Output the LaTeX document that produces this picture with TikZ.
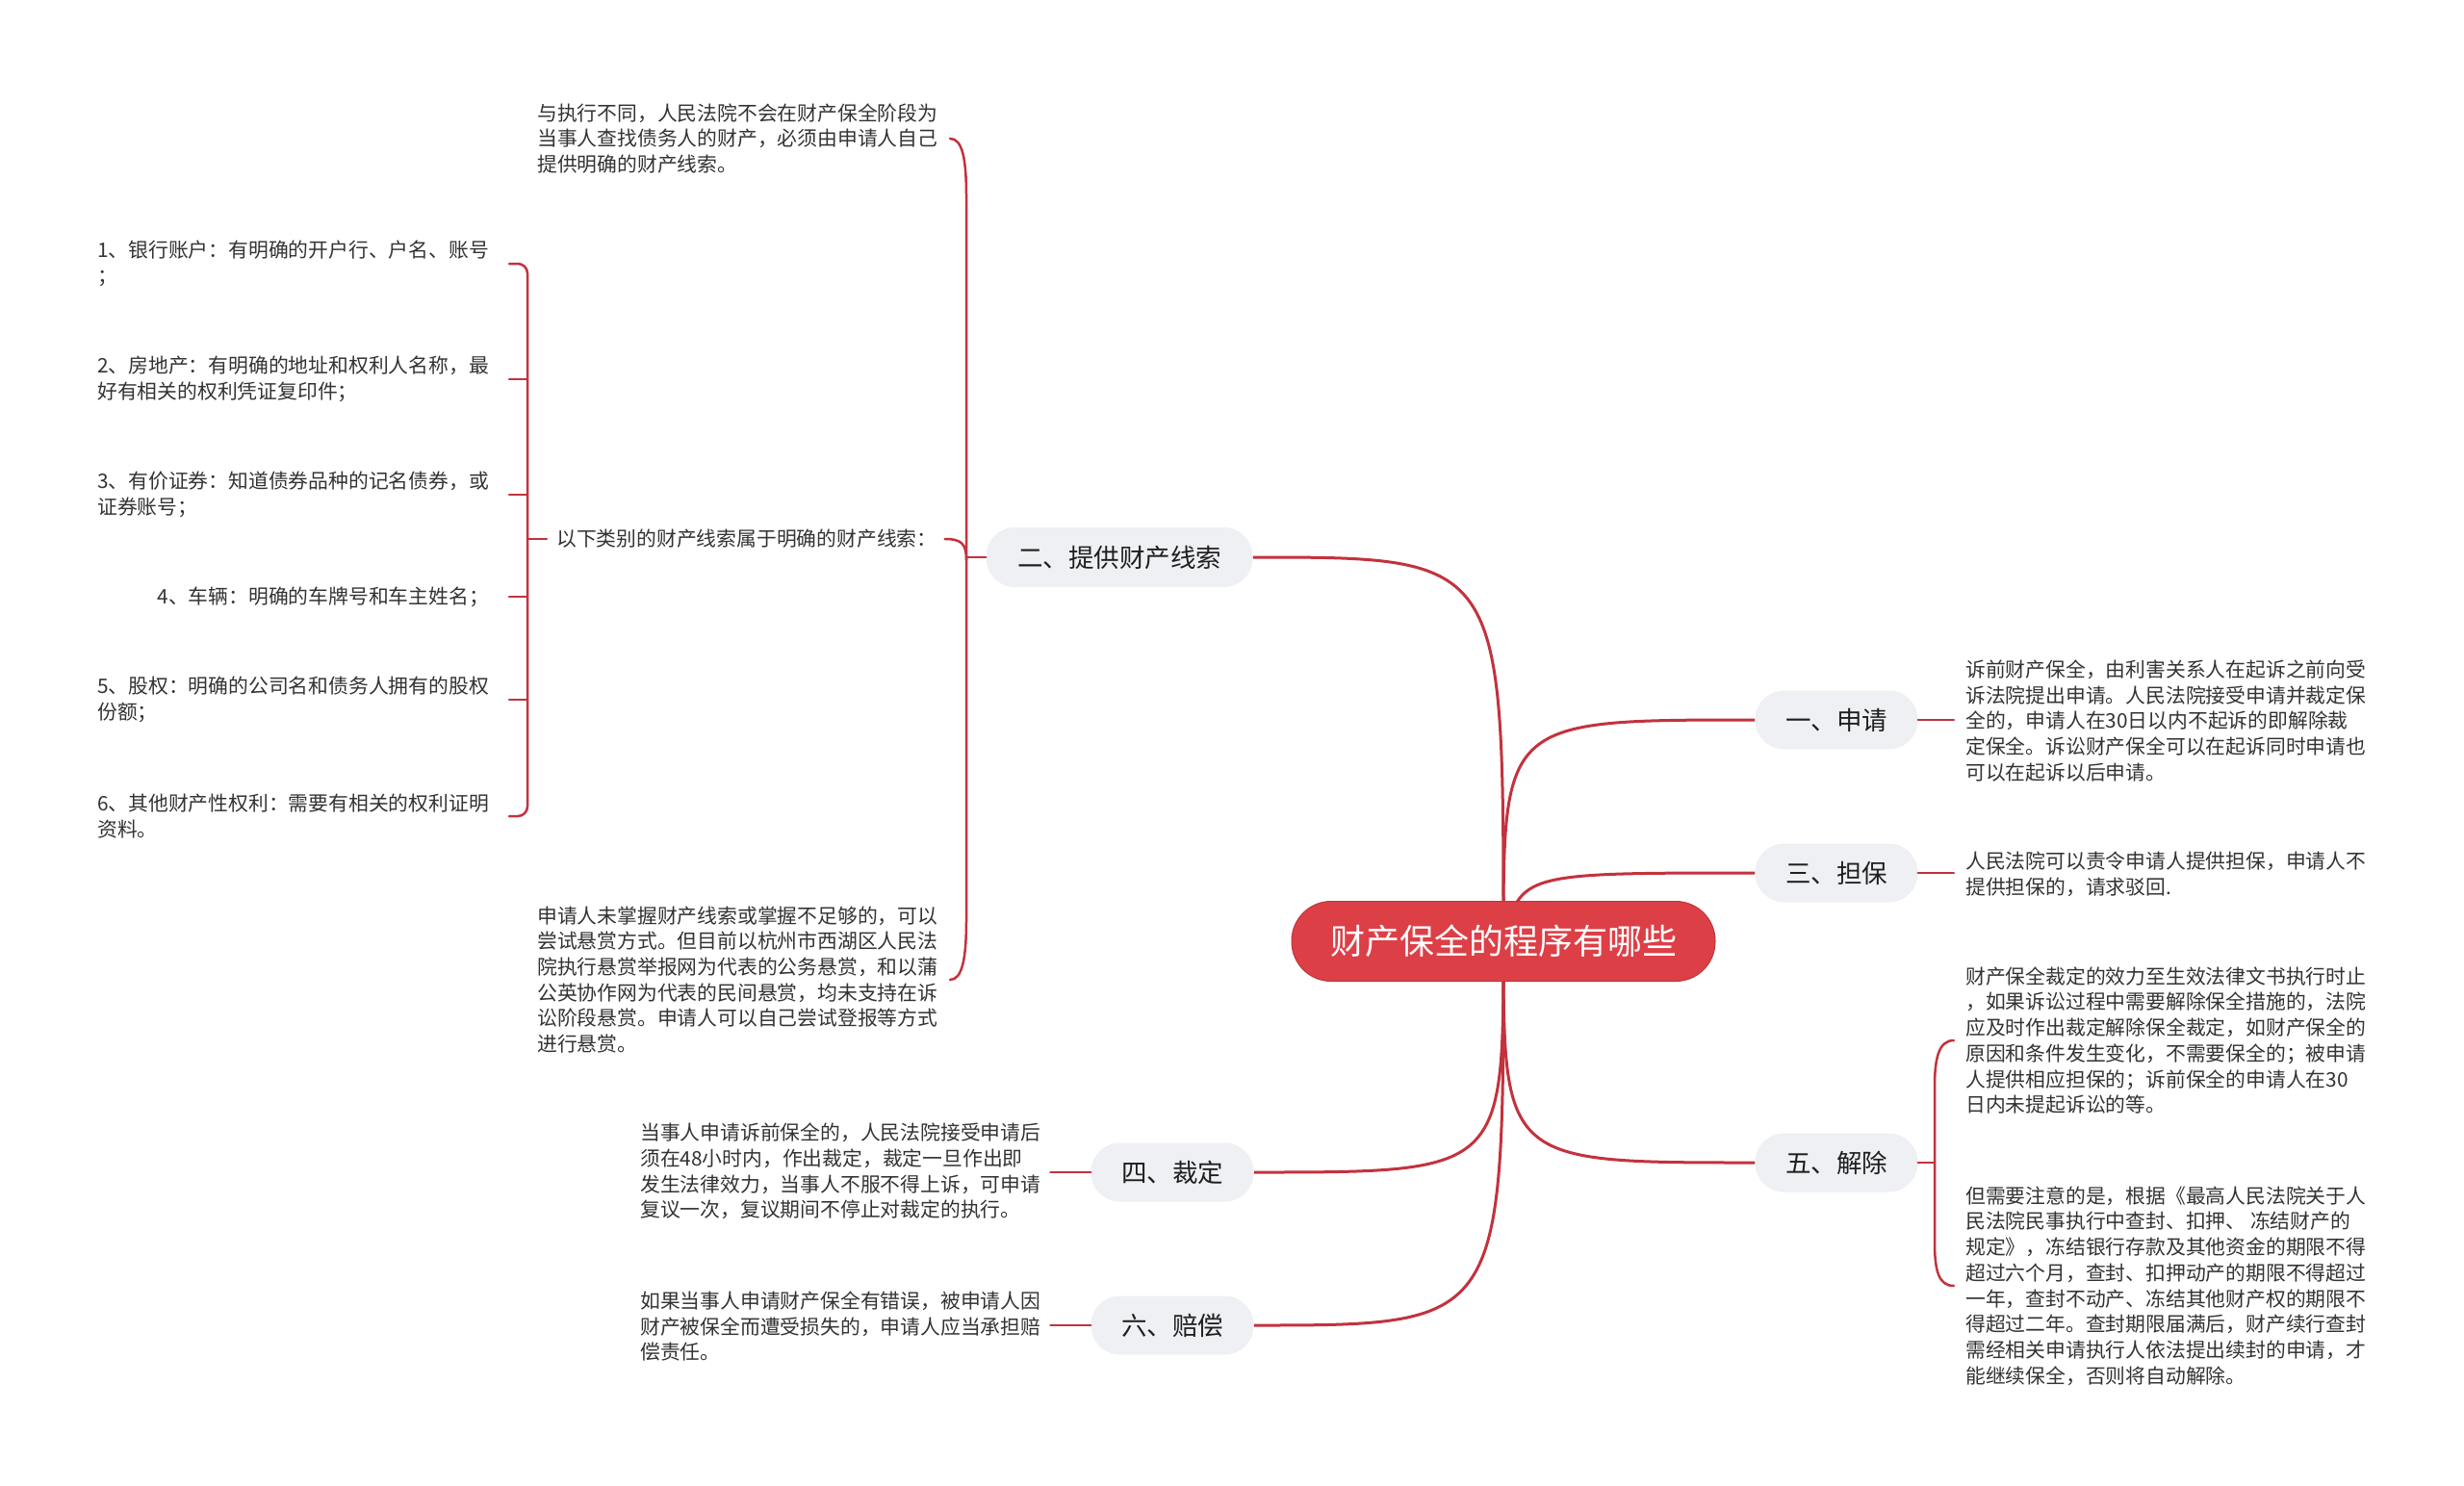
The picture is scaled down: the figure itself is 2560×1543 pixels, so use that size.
\documentclass[tikz,border=0pt]{standalone}
\usepackage{fontspec}
\newfontfamily\cjk{Noto Sans CJK SC}
\usetikzlibrary{backgrounds}
\definecolor{linered}{HTML}{C3323D}
\definecolor{rootred}{HTML}{DD3F47}
\definecolor{nodegray}{HTML}{EEF0F3}
\definecolor{txt}{HTML}{333333}
\tikzset{
  rootnode/.style={fill=rootred, draw=rootred!85!black, line width=1pt, rounded corners=41pt,
    minimum width=440pt, minimum height=83pt, inner sep=0pt, text=white,
    font=\cjk\fontsize{36pt}{40pt}\selectfont},
  branchnode/.style={fill=nodegray, rounded corners=30pt, minimum width=169pt,
    minimum height=61pt, inner sep=0pt, text=black!88,
    font=\cjk\fontsize{26.5pt}{30pt}\selectfont},
  leafnode/.style={align=left, inner sep=0pt, text=txt,
    font=\cjk\fontsize{20.8pt}{26.7pt}\selectfont},
  mainline/.style={draw=linered, line width=3pt},
  subline/.style={draw=linered, line width=2.5pt, line cap=round},
}
\begin{document}
\begin{tikzpicture}[x=1pt,y=-1pt]
\useasboundingbox (0,0) rectangle (2560,1543);

% ---- main nodes
\node[rootnode] (root) at (1562,978) {财产保全的程序有哪些};
\node[branchnode, minimum width=277pt, minimum height=62pt] (b2) at (1163,579) {二、提供财产线索};
\node[branchnode] (b1) at (1908,748) {一、申请};
\node[branchnode] (b3) at (1908,907) {三、担保};
\node[branchnode] (b5) at (1908,1208) {五、解除};
\node[branchnode] (b4) at (1218,1218) {四、裁定};
\node[branchnode] (b6) at (1218,1377) {六、赔偿};

% ---- background and main connectors (behind nodes)
\begin{scope}[on background layer]
\fill[white] (0,0) rectangle (2560,1543);
\draw[mainline] (root.center) .. controls (root.center |- b2.east) .. (b2.east);
\draw[mainline] (root.center) .. controls (root.center |- b1.west) .. (b1.west);
\draw[mainline] (root.center) .. controls ([xshift=18pt]root.center |- b3.west) .. (b3.west);
\draw[mainline] (root.center) .. controls (root.center |- b5.west) .. (b5.west);
\draw[mainline] (root.center) .. controls (root.center |- b4.east) .. (b4.east);
\draw[mainline] (root.center) .. controls (root.center |- b6.east) .. (b6.east);
\end{scope}

% ---- branch 二 children
\node[leafnode, anchor=west] (c2a) at (558,144) {与执行不同，人民法院不会在财产保全阶段为\\当事人查找债务人的财产，必须由申请人自己\\提供明确的财产线索。};
\node[leafnode, anchor=west] (c2b) at (578,560) {以下类别的财产线索属于明确的财产线索：};
\node[leafnode, anchor=west] (c2c) at (558,1018) {申请人未掌握财产线索或掌握不足够的，可以\\尝试悬赏方式。但目前以杭州市西湖区人民法\\院执行悬赏举报网为代表的公务悬赏，和以蒲\\公英协作网为代表的民间悬赏，均未支持在诉\\讼阶段悬赏。申请人可以自己尝试登报等方式\\进行悬赏。};

\coordinate (k2top) at (987,144);
\coordinate (k2bot) at (987,1018);
\coordinate (k2mid) at (1004,579);
\draw[subline] (k2top) .. controls (1000,144) and (1004,165) .. (1004,205) -- (1004,955) .. controls (1004,995) and (1000,1018) .. (k2bot);
\draw[subline] (b2.west) -- (k2mid);
\draw[subline] ([xshift=8pt]c2b.east) .. controls (1000,560) and (1004,566) .. (1004,582);

% ---- items under 以下类别
\node[leafnode, anchor=west] (i1) at (101,274) {1、银行账户：有明确的开户行、户名、账号\\；};
\node[leafnode, anchor=west] (i2) at (101,394) {2、房地产：有明确的地址和权利人名称，最\\好有相关的权利凭证复印件；};
\node[leafnode, anchor=west] (i3) at (101,514) {3、有价证券：知道债券品种的记名债券，或\\证券账号；};
\node[leafnode, anchor=east] (i4) at (508,620) {4、车辆：明确的车牌号和车主姓名；};
\node[leafnode, anchor=west] (i5) at (101,727) {5、股权：明确的公司名和债务人拥有的股权\\份额；};
\node[leafnode, anchor=west] (i6) at (101,848) {6、其他财产性权利：需要有相关的权利证明\\资料。};

\coordinate (t1) at (529,274);
\coordinate (t2) at (529,394);
\coordinate (t3) at (529,514);
\coordinate (t4) at (529,620);
\coordinate (t5) at (529,727);
\coordinate (t6) at (529,848);
\draw[subline, rounded corners=10pt] (t1) -- (548,274) -- (548,848) -- (t6);
\draw[subline] (t2) -- (548,394);
\draw[subline] (t3) -- (548,514);
\draw[subline] (t4) -- (548,620);
\draw[subline] (t5) -- (548,727);
\draw[subline] (548,560) -- ([xshift=-10pt]c2b.west);

% ---- right side leaves
\node[leafnode, anchor=west] (c1) at (2042,749) {诉前财产保全，由利害关系人在起诉之前向受\\诉法院提出申请。人民法院接受申请并裁定保\\全的，申请人在30日以内不起诉的即解除裁\\定保全。诉讼财产保全可以在起诉同时申请也\\可以在起诉以后申请。};
\draw[subline] (b1.east) -- ([xshift=-12pt]c1.west |- b1.east);

\node[leafnode, anchor=west] (c3) at (2042,908) {人民法院可以责令申请人提供担保，申请人不\\提供担保的，请求驳回.};
\draw[subline] (b3.east) -- ([xshift=-12pt]c3.west |- b3.east);

\node[leafnode, anchor=west] (c5a) at (2042,1081) {财产保全裁定的效力至生效法律文书执行时止\\，如果诉讼过程中需要解除保全措施的，法院\\应及时作出裁定解除保全裁定，如财产保全的\\原因和条件发生变化，不需要保全的；被申请\\人提供相应担保的；诉前保全的申请人在30\\日内未提起诉讼的等。};
\node[leafnode, anchor=west] (c5b) at (2042,1336) {但需要注意的是，根据《最高人民法院关于人\\民法院民事执行中查封、扣押、 冻结财产的\\规定》，冻结银行存款及其他资金的期限不得\\超过六个月，查封、扣押动产的期限不得超过\\一年，查封不动产、冻结其他财产权的期限不\\得超过二年。查封期限届满后，财产续行查封\\需经相关申请执行人依法提出续封的申请，才\\能继续保全，否则将自动解除。};
\coordinate (k5top) at (2030,1081);
\coordinate (k5bot) at (2030,1336);
\draw[subline] (k5top) .. controls (2014,1081) and (2010,1100) .. (2010,1130) -- (2010,1290) .. controls (2010,1320) and (2014,1336) .. (k5bot);
\draw[subline] (b5.east) -- (2010,1208);

% ---- lower left leaves
\node[leafnode, anchor=west] (c4) at (665,1217) {当事人申请诉前保全的，人民法院接受申请后\\须在48小时内，作出裁定，裁定一旦作出即\\发生法律效力，当事人不服不得上诉，可申请\\复议一次，复议期间不停止对裁定的执行。};
\draw[subline] ([xshift=10pt]c4.east |- b4.west) -- (b4.west);

\node[leafnode, anchor=west] (c6) at (665,1378) {如果当事人申请财产保全有错误，被申请人因\\财产被保全而遭受损失的，申请人应当承担赔\\偿责任。};
\draw[subline] ([xshift=10pt]c6.east |- b6.west) -- (b6.west);
\end{tikzpicture}
\end{document}
